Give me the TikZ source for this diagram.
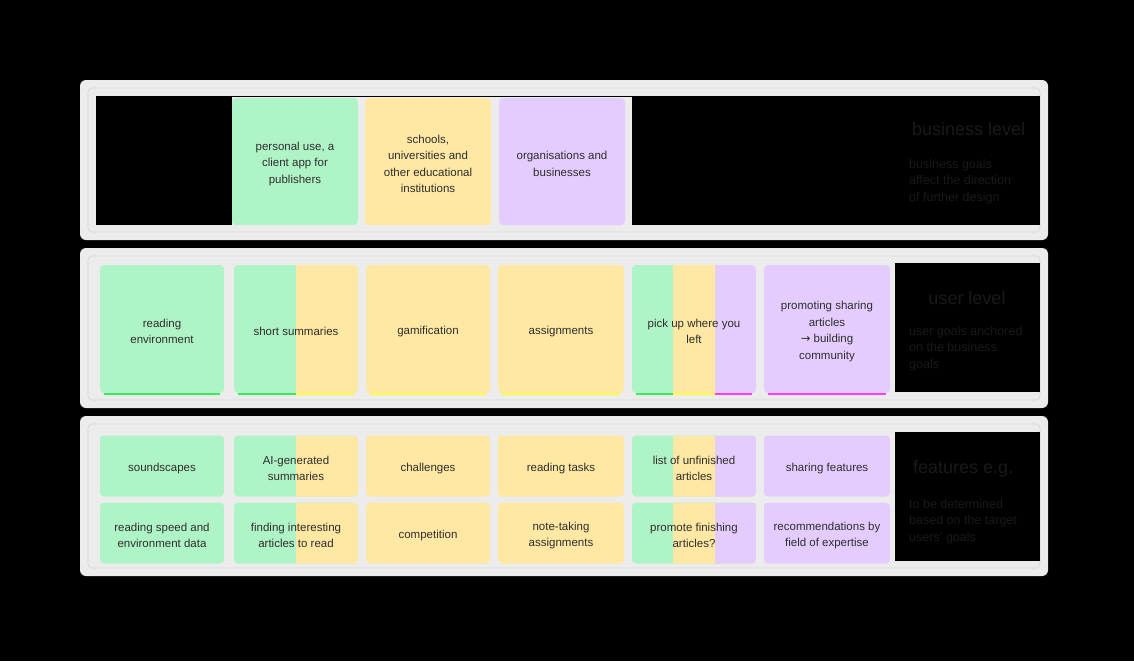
\documentclass[tikz,border=0pt]{standalone}
\usepackage{fontspec}
\setmainfont{Liberation Sans}
\newfontfamily\arrowfont{DejaVu Sans}
\usetikzlibrary{calc}
\definecolor{cgreen}{HTML}{AFF4C6}
\definecolor{cyellow}{HTML}{FFE8A3}
\definecolor{cpurple}{HTML}{E4CCFF}
\definecolor{cframe}{HTML}{ECECEC}
\definecolor{cframeline}{HTML}{D6D6D6}
\definecolor{ctext}{HTML}{2E2E2E}
\definecolor{clabel}{HTML}{1A1A1A}
\definecolor{lgreen}{HTML}{3CEB5A}
\definecolor{lyellow}{HTML}{FFFF3C}
\definecolor{lpurple}{HTML}{FF3CFF}
\tikzset{
  panel/.style={fill=cframe, rounded corners=6pt},
  panelline/.style={draw=cframeline, line width=0.6pt, rounded corners=4pt},
  hole/.style={fill=black},
  card/.style={rounded corners=4pt, inner sep=0pt, minimum width=124pt},
  txt/.style={label={[align=center, inner sep=0pt, text=ctext, yshift=-2.5pt,
    font=\fontsize{11.5}{16.5}\selectfont]center:{#1}}},
  tall/.style={card, minimum height=128pt},
  big/.style={card, minimum height=127pt, minimum width=126pt},
  short/.style={card, minimum height=61pt},
  gcard/.style={fill=cgreen},
  ycard/.style={fill=cyellow},
  pcard/.style={fill=cpurple},
  gy/.style={fill=cgreen, path picture={\fill[cyellow, sharp corners] (path picture bounding box.north) rectangle (path picture bounding box.south east);}},
  gyp/.style={fill=cgreen, path picture={
      \fill[cyellow, sharp corners] ($(path picture bounding box.north west)!0.333!(path picture bounding box.north east)$) rectangle (path picture bounding box.south east);
      \fill[cpurple, sharp corners] ($(path picture bounding box.north west)!0.667!(path picture bounding box.north east)$) rectangle (path picture bounding box.south east);}},
  title/.style={text=clabel, font=\fontsize{18}{21}\selectfont, inner sep=0pt},
  body/.style={text=clabel, font=\fontsize{12.5}{16.5}\selectfont, align=left, inner sep=0pt, anchor=north west},
  hl/.style={line width=1.6pt},
}
\begin{document}
\begin{tikzpicture}[x=1pt,y=-1pt]
\fill[black] (0,0) rectangle (1134,661);
\useasboundingbox (0,0) rectangle (1134,661);

% panels
\fill[panel] (80,80) rectangle (1048,240);
\draw[panelline] (88,88) rectangle (1040,232);
\fill[hole] (96,96) rectangle (1040,225);
\fill[cframe] (232,97) rectangle (632,226);

\fill[panel] (80,248) rectangle (1048,408);
\draw[panelline] (88,256) rectangle (1040,400);
\fill[hole] (895,263) rectangle (1040,392);

\fill[panel] (80,416) rectangle (1048,576);
\draw[panelline] (88,424) rectangle (1040,568);
\fill[hole] (895,432) rectangle (1040,561);

% business level
\node[big, gcard, txt={personal use, a\\client app for\\publishers}] (b1) at (295,161.5) {};
\node[big, ycard, txt={schools,\\universities and\\other educational\\institutions}] (b2) at (428,161.5) {};
\node[big, pcard, txt={organisations and\\businesses}] (b3) at (562,161.5) {};
\node[title, anchor=west] (t1) at (912,129) {business level};
\node[body] (d1) at (909,159) {business goals\\affect the direction\\of further design};

% user level
\node[tall, gcard, txt={reading\\environment}] (u1) at (162,329) {};
\node[tall, gy, txt={short summaries}] (u2) at (296,329) {};
\node[tall, ycard, txt={gamification}] (u3) at (428,329) {};
\node[tall, ycard, minimum width=126pt, txt={assignments}] (u4) at (561,329) {};
\node[tall, gyp, txt={pick up where you\\left}] (u5) at (694,329) {};
\node[tall, pcard, minimum width=126pt, txt={promoting sharing\\articles\\{\arrowfont\char"2192} building\\community}] (u6) at (827,329) {};
\node[title] (t2) at (967,298) {user level};
\node[body] (d2) at (909,326) {user goals anchored\\on the business\\goals};

% bottom highlight lines of user-level cards
\draw[hl, lgreen] ([xshift=4pt,yshift=-1pt]u1.south west) -- ([xshift=-4pt,yshift=-1pt]u1.south east);
\draw[hl, lgreen] ([xshift=4pt,yshift=-1pt]u2.south west) -- ([yshift=-1pt]u2.south);
\draw[hl, lyellow] ([yshift=-1pt]u2.south) -- ([xshift=-4pt,yshift=-1pt]u2.south east);
\draw[hl, lyellow] ([xshift=4pt,yshift=-1pt]u3.south west) -- ([xshift=-4pt,yshift=-1pt]u3.south east);
\draw[hl, lyellow] ([xshift=4pt,yshift=-1pt]u4.south west) -- ([xshift=-4pt,yshift=-1pt]u4.south east);
\draw[hl, lgreen] ([xshift=4pt,yshift=-1pt]u5.south west) -- ([xshift=-83pt,yshift=-1pt]u5.south east);
\draw[hl, lyellow] ([xshift=-83pt,yshift=-1pt]u5.south east) -- ([xshift=-41pt,yshift=-1pt]u5.south east);
\draw[hl, lpurple] ([xshift=-41pt,yshift=-1pt]u5.south east) -- ([xshift=-4pt,yshift=-1pt]u5.south east);
\draw[hl, lpurple] ([xshift=4pt,yshift=-1pt]u6.south west) -- ([xshift=-4pt,yshift=-1pt]u6.south east);

% features
\node[short, gcard, txt={soundscapes}] (f11) at (162,466) {};
\node[short, gy, txt={AI-generated\\summaries}] (f12) at (296,466) {};
\node[short, ycard, txt={challenges}] (f13) at (428,466) {};
\node[short, ycard, minimum width=126pt, txt={reading tasks}] (f14) at (561,466) {};
\node[short, gyp, txt={list of unfinished\\articles}] (f15) at (694,466) {};
\node[short, pcard, minimum width=126pt, txt={sharing features}] (f16) at (827,466) {};

\node[short, gcard, txt={reading speed and\\environment data}] (f21) at (162,533) {};
\node[short, gy, txt={finding interesting\\articles to read}] (f22) at (296,533) {};
\node[short, ycard, txt={competition}] (f23) at (428,533) {};
\node[short, ycard, minimum width=126pt, txt={note-taking\\assignments}] (f24) at (561,533) {};
\node[short, gyp, txt={promote finishing\\articles?}] (f25) at (694,533) {};
\node[short, pcard, minimum width=126pt, txt={recommendations by\\field of expertise}] (f26) at (827,533) {};

\node[title, anchor=west] (t3) at (913,469) {features e.g.};
\node[body] (d3) at (909,499) {to be determined\\based on the target\\users' goals};
\end{tikzpicture}
\end{document}
